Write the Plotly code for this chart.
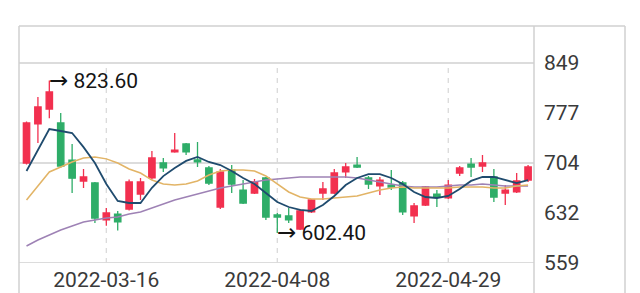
import plotly.graph_objects as go

dates = ["2022-03-07", "2022-03-08", "2022-03-09", "2022-03-10", "2022-03-11",
         "2022-03-14", "2022-03-15", "2022-03-16", "2022-03-17", "2022-03-18",
         "2022-03-21", "2022-03-22", "2022-03-23", "2022-03-24", "2022-03-25",
         "2022-03-28", "2022-03-29", "2022-03-30", "2022-03-31", "2022-04-01",
         "2022-04-06", "2022-04-07", "2022-04-08", "2022-04-11", "2022-04-12",
         "2022-04-13", "2022-04-14", "2022-04-15", "2022-04-18", "2022-04-19",
         "2022-04-20", "2022-04-21", "2022-04-22", "2022-04-25", "2022-04-26",
         "2022-04-27", "2022-04-28", "2022-04-29", "2022-05-05", "2022-05-06",
         "2022-05-09", "2022-05-10", "2022-05-11", "2022-05-12", "2022-05-13"]

open_ = [704.0, 760.6, 782.3, 762.0, 708.0, 677.9, 675.0, 621.4, 630.0, 637.3,
         659.0, 682.3, 704.0, 720.0, 731.6, 708.4, 696.8, 640.2, 693.8, 664.8,
         660.5, 682.3, 628.6, 627.2, 608.3, 633.0, 660.5, 660.5, 691.0, 701.0,
         682.3, 670.7, 672.0, 675.0, 627.2, 643.1, 659.0, 653.3, 689.5, 702.5,
         699.6, 683.7, 660.5, 662.0, 679.3]
high = [764.0, 799.7, 823.6, 776.5, 731.5, 695.3, 676.5, 638.8, 634.4, 680.0,
        682.3, 721.4, 711.3, 747.5, 733.0, 734.5, 699.6, 695.3, 701.0, 679.3,
        680.8, 683.7, 631.5, 638.8, 637.3, 651.8, 676.5, 695.3, 704.0, 712.7,
        685.0, 683.7, 693.8, 678.0, 646.0, 670.7, 664.8, 679.3, 699.6, 711.3,
        715.6, 695.3, 672.0, 689.5, 701.0]
low = [702.0, 733.0, 769.0, 697.0, 660.5, 667.8, 617.0, 612.9, 606.0, 635.0,
       650.4, 680.0, 691.0, 719.0, 715.6, 698.2, 672.0, 637.3, 660.5, 644.5,
       659.0, 621.4, 602.4, 617.0, 606.8, 631.5, 650.4, 659.0, 682.3, 696.8,
       666.3, 657.6, 664.8, 628.6, 617.0, 641.7, 640.2, 651.8, 685.0, 683.7,
       691.0, 647.5, 643.1, 660.5, 676.5]
close = [762.0, 785.2, 807.0, 699.6, 682.0, 683.7, 624.2, 631.5, 618.5, 676.5,
         676.5, 711.3, 696.8, 722.8, 720.0, 705.5, 675.0, 691.0, 673.5, 646.0,
         676.5, 625.7, 625.7, 621.4, 634.4, 650.4, 666.3, 689.5, 698.2, 698.2,
         673.5, 679.3, 669.2, 633.0, 641.7, 669.2, 654.7, 672.0, 696.8, 698.2,
         704.0, 654.7, 664.8, 678.0, 698.2]

ma_blue = [692.4, 722.8, 753.3, 750.4, 747.5, 727.0, 704.0, 673.5, 649.0, 646.0,
           646.0, 668.0, 685.0, 696.8, 707.0, 712.7, 705.5, 701.0, 692.4, 682.3,
           673.5, 660.5, 647.5, 640.2, 635.9, 634.4, 643.1, 656.2, 672.0, 682.3,
           688.0, 688.0, 682.3, 673.5, 662.0, 654.7, 653.3, 656.2, 666.3, 678.0,
           683.7, 683.7, 679.3, 675.0, 679.3]
ma_orange = [650.4, 670.7, 691.0, 698.2, 705.5, 711.3, 712.7, 710.0, 704.0, 695.3,
             689.5, 679.3, 673.5, 672.0, 673.5, 678.0, 686.6, 692.4, 693.8, 693.8,
             692.4, 685.2, 673.5, 662.0, 654.7, 651.8, 651.8, 653.3, 654.7, 656.2,
             660.5, 664.8, 667.8, 669.2, 667.8, 667.8, 667.8, 667.8, 669.2, 669.2,
             669.2, 667.8, 667.8, 670.7, 672.0]
ma_purple = [583.7, 592.4, 599.6, 606.9, 612.7, 618.5, 621.4, 624.3, 625.7, 630.0,
             633.0, 638.8, 644.5, 650.4, 654.7, 659.0, 663.4, 667.8, 670.7, 673.5,
             676.5, 679.3, 680.8, 682.3, 683.7, 683.7, 683.7, 683.7, 683.7, 682.3,
             679.3, 676.5, 673.5, 670.7, 669.2, 669.2, 669.2, 670.7, 672.0, 672.0,
             673.5, 672.0, 670.7, 670.7, 670.7]

y_ticks = [559, 631.5, 704, 776.5, 849]
y_tick_text = ["559", "632", "704", "777", "849"]
grid_levels = [849, 704, 559]
x_ticks = ["2022-03-16", "2022-04-08", "2022-04-29"]

RED = "#F2304F"
GREEN = "#2EAD68"
BORDER = "#D0D0D0"
FONT = "Roboto"

fig = go.Figure()
fig.add_trace(go.Candlestick(
    x=dates, open=open_, high=high, low=low, close=close,
    increasing=dict(line=dict(color=RED, width=1.3), fillcolor=RED),
    decreasing=dict(line=dict(color=GREEN, width=1.3), fillcolor=GREEN),
    whiskerwidth=0, hoverinfo="skip", showlegend=False))
fig.add_trace(go.Scatter(x=dates, y=ma_purple, mode="lines",
                         line=dict(color="#9E82B5", width=1.5), showlegend=False))
fig.add_trace(go.Scatter(x=dates, y=ma_orange, mode="lines",
                         line=dict(color="#E2B466", width=1.5), showlegend=False))
fig.add_trace(go.Scatter(x=dates, y=ma_blue, mode="lines",
                         line=dict(color="#1F4B6E", width=1.8), showlegend=False))

shapes = []
for lv in grid_levels:
    shapes.append(dict(type="line", xref="paper", yref="y", x0=0, x1=1, y0=lv, y1=lv,
                       line=dict(color=BORDER, width=1.5), layer="below"))
for t in x_ticks:
    xi = dates.index(t)
    shapes.append(dict(type="line", xref="x", yref="y", x0=xi, x1=xi,
                       y0=grid_levels[-1], y1=grid_levels[0],
                       line=dict(color="#DADADA", width=1.3, dash="5px,5px"), layer="below"))
# frame
W = 515.0
H = 237.0
shapes += [
    dict(type="line", xref="paper", yref="paper", x0=0, x1=606 / W, y0=1, y1=1,
         line=dict(color=BORDER, width=1.5)),
    dict(type="line", xref="paper", yref="paper", x0=0, x1=0, y0=1, y1=-30 / H,
         line=dict(color=BORDER, width=1.5)),
    dict(type="line", xref="paper", yref="paper", x0=1, x1=1, y0=1, y1=-30 / H,
         line=dict(color=BORDER, width=1.5)),
    dict(type="line", xref="paper", yref="paper", x0=606 / W, x1=606 / W, y0=1, y1=-30 / H,
         line=dict(color=BORDER, width=1.5)),
]

ARROW = "<span style=\"font-family:'DejaVu Sans';font-size:23px\">→</span> "
hi_i = high.index(max(high))
lo_i = low.index(min(low))
annotations = [
    dict(x=hi_i, y=high[hi_i], xref="x", yref="y", text=ARROW + "%.2f" % high[hi_i],
         showarrow=False, xanchor="left", yanchor="middle", xshift=-2, yshift=1,
         font=dict(family=FONT, size=21, color="#151515")),
    dict(x=lo_i, y=low[lo_i], xref="x", yref="y", text=ARROW + "%.2f" % low[lo_i],
         showarrow=False, xanchor="left", yanchor="middle", xshift=-2, yshift=1,
         font=dict(family=FONT, size=21, color="#151515")),
]

fig.update_layout(
    width=640, height=293,
    margin=dict(l=19, r=106, t=26, b=30),
    paper_bgcolor="white", plot_bgcolor="white",
    font=dict(family=FONT, size=21, color="#3A3A3A"),
    boxgap=0.2,
    shapes=shapes, annotations=annotations,
    xaxis=dict(type="category", range=[-0.66, 44.52], rangeslider=dict(visible=False),
               tickmode="array", tickvals=x_ticks, ticktext=x_ticks,
               showgrid=False, zeroline=False, showline=False, ticks="",
               ticklabelstandoff=2, automargin=False,
               tickfont=dict(family=FONT, size=21, color="#3A3A3A")),
    yaxis=dict(side="right", range=[559, 902.65], tickmode="array",
               tickvals=y_ticks, ticktext=y_tick_text, showgrid=False,
               zeroline=False, showline=False, ticks="", ticklabelstandoff=9,
               automargin=False,
               tickfont=dict(family=FONT, size=21, color="#3A3A3A")),
)

fig.write_html("out.html")
